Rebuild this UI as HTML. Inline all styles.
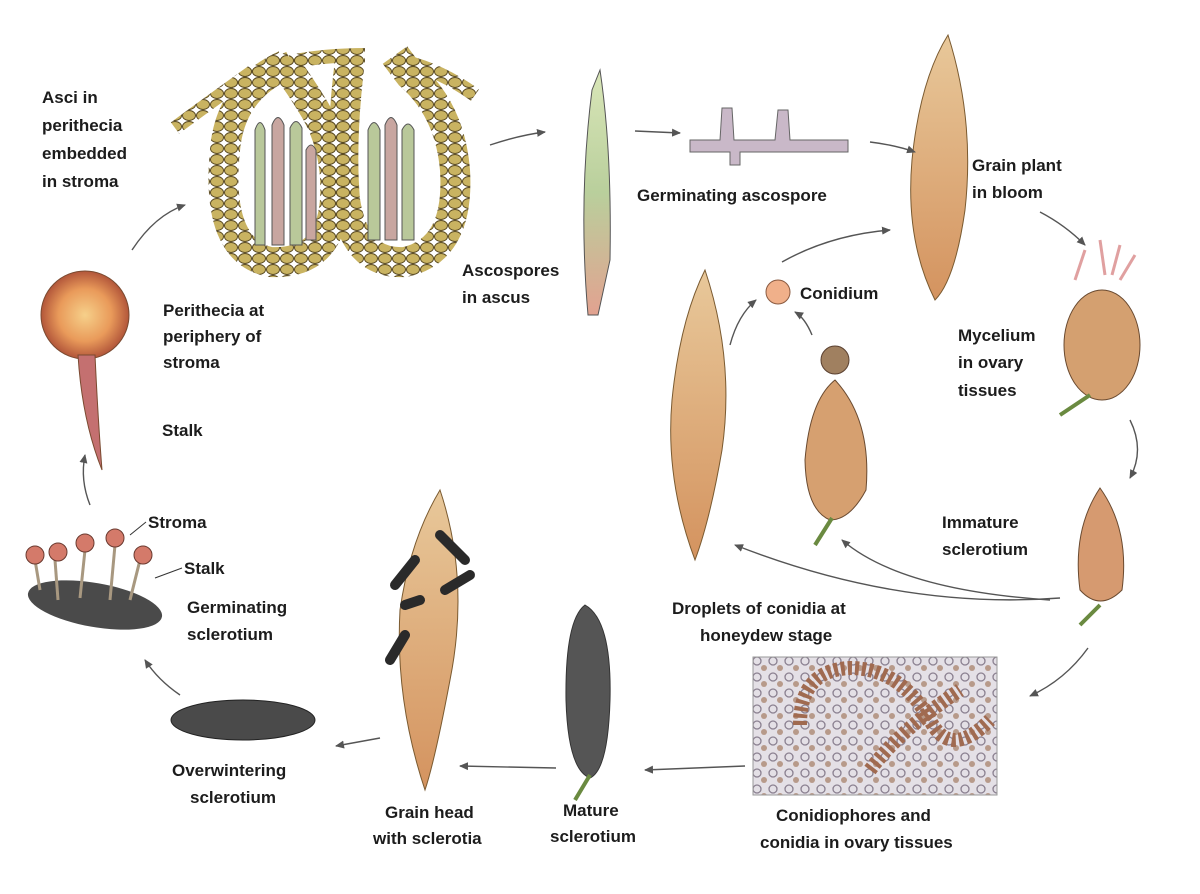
<!DOCTYPE html>
<html><head><meta charset="utf-8"><style>
html,body{margin:0;padding:0;background:#fff}
svg{display:block}
text{font-family:"Liberation Sans",sans-serif;font-weight:bold;font-size:17px;fill:#1c1c1c}
.ar{fill:none;stroke:#555;stroke-width:1.4}
</style></head><body>
<svg width="1200" height="894" viewBox="0 0 1200 894" xmlns="http://www.w3.org/2000/svg">
<defs>
<marker id="m" markerWidth="10" markerHeight="10" refX="8" refY="5" orient="auto" markerUnits="userSpaceOnUse"><path d="M0,1 L9,5 L0,9 Z" fill="#555"/></marker>
<linearGradient id="asc" x1="0" y1="0" x2="0" y2="1"><stop offset="0" stop-color="#d9e6b8"/><stop offset=".5" stop-color="#b9cf9c"/><stop offset="1" stop-color="#e2a290"/></linearGradient>
<linearGradient id="wheat" x1="0" y1="0" x2="0" y2="1"><stop offset="0" stop-color="#e8c89a"/><stop offset="1" stop-color="#d4935f"/></linearGradient>
<radialGradient id="str"><stop offset="0" stop-color="#f6d08a"/><stop offset=".6" stop-color="#e99a5a"/><stop offset="1" stop-color="#b2563a"/></radialGradient>
<pattern id="cells" width="14" height="11" patternUnits="userSpaceOnUse"><ellipse cx="7" cy="5.5" rx="6.5" ry="5" fill="#c9b361" stroke="#5a4a20" stroke-width="1"/></pattern>
<pattern id="tis" width="16" height="16" patternUnits="userSpaceOnUse"><rect width="16" height="16" fill="#e4e0e6"/><circle cx="5" cy="5" r="4" fill="none" stroke="#8a8090" stroke-width="1.3"/><circle cx="12" cy="12" r="3" fill="#b79a8a"/></pattern>
</defs>

<!-- perithecia -->
<g fill="none" stroke="url(#cells)">
<path d="M175,128 Q220,95 255,70" stroke-width="14"/>
<path d="M285,65 Q230,90 225,150 Q215,250 270,262 Q330,265 335,200 Q338,150 315,110 Q300,85 285,65" stroke-width="30"/>
<path d="M285,65 L280,55" stroke-width="14"/>
<path d="M290,62 Q325,55 365,55" stroke-width="14"/>
<path d="M350,60 Q340,140 345,200 Q355,265 405,262 Q460,250 455,170 Q450,110 410,75 Q400,62 395,55" stroke-width="30"/>
<path d="M405,62 Q440,70 475,95" stroke-width="14"/>
</g>
<g stroke="#555" stroke-width="1">
<path d="M255,245 L255,130 Q260,115 265,130 L265,245 Z" fill="#b9c89a"/>
<path d="M272,245 L272,125 Q278,110 284,125 L284,245 Z" fill="#c8a6a0"/>
<path d="M290,245 L290,128 Q296,115 302,128 L302,245 Z" fill="#b9c89a"/>
<path d="M306,240 L306,150 Q311,140 316,150 L316,240 Z" fill="#c8a6a0"/>
<path d="M368,240 L368,130 Q374,115 380,130 L380,240 Z" fill="#b9c89a"/>
<path d="M385,240 L385,125 Q391,110 397,125 L397,240 Z" fill="#c8a6a0"/>
<path d="M402,240 L402,130 Q408,118 414,130 L414,240 Z" fill="#b9c89a"/>
</g>
<!-- ascus -->
<path d="M600,70 Q612,150 610,260 L598,315 L588,315 Q578,200 592,90 Z" fill="url(#asc)" stroke="#555"/>
<!-- germinating ascospore -->
<path d="M690,140 L720,140 L722,108 L732,108 L734,140 L775,140 L778,110 L788,110 L790,140 L848,140 L848,152 L740,152 L740,165 L730,165 L730,152 L690,152 Z" fill="#c9b8c8" stroke="#666"/>
<!-- grain plant -->
<path d="M948,35 Q975,120 965,210 Q955,280 935,300 Q905,240 912,160 Q920,80 948,35 Z" fill="url(#wheat)" stroke="#7a5a30"/>
<!-- mycelium ovary -->
<path d="M1085,250 l-10,30 M1100,240 l5,35 M1120,245 l-8,30 M1135,255 l-15,25" stroke="#e0a0a0" stroke-width="3"/>
<ellipse cx="1102" cy="345" rx="38" ry="55" fill="#d4a070" stroke="#6a4a30"/>
<path d="M1090,395 L1060,415" stroke="#6a8a40" stroke-width="4"/>
<!-- immature sclerotium -->
<path d="M1100,488 Q1130,530 1122,590 Q1100,612 1080,590 Q1072,530 1100,488 Z" fill="#d69a70" stroke="#6a4a30"/>
<path d="M1100,605 L1080,625" stroke="#6a8a40" stroke-width="4"/>
<!-- conidia box -->
<rect x="753" y="657" width="244" height="138" fill="url(#tis)" stroke="#999"/>
<path d="M800,725 Q800,670 850,668 Q900,668 930,720 Q950,760 990,720" stroke="#a06a50" stroke-width="14" fill="none" stroke-dasharray="4 3"/>
<path d="M870,770 Q900,730 960,690" stroke="#a06a50" stroke-width="14" fill="none" stroke-dasharray="4 3"/>
<!-- mature sclerotium -->
<path d="M585,605 Q612,620 610,700 Q608,770 590,778 Q568,770 566,700 Q565,620 585,605 Z" fill="#555" stroke="#333"/>
<path d="M590,775 L575,800" stroke="#6a8a40" stroke-width="4"/>
<!-- grain head with sclerotia -->
<path d="M440,490 Q470,580 450,680 Q435,760 425,790 Q395,700 400,610 Q410,540 440,490 Z" fill="url(#wheat)" stroke="#7a5a30"/>
<g stroke="#2a2a2a" stroke-width="10" stroke-linecap="round"><path d="M440,535 L465,560"/><path d="M415,560 L395,585"/><path d="M445,590 L470,575"/><path d="M405,635 L390,660"/><path d="M420,600 L405,605"/></g>
<!-- overwintering -->
<ellipse cx="243" cy="720" rx="72" ry="20" fill="#4a4a4a" stroke="#222"/>
<!-- germinating sclerotium -->
<ellipse cx="95" cy="605" rx="68" ry="22" fill="#4a4a4a" transform="rotate(10 95 605)"/>
<g stroke="#a89880" stroke-width="3"><path d="M55,560 L58,600"/><path d="M85,550 L80,598"/><path d="M115,545 L110,600"/><path d="M140,560 L130,600"/><path d="M35,560 L40,590"/></g>
<g fill="#d47a6a" stroke="#6a3a30"><circle cx="35" cy="555" r="9"/><circle cx="58" cy="552" r="9"/><circle cx="85" cy="543" r="9"/><circle cx="115" cy="538" r="9"/><circle cx="143" cy="555" r="9"/></g>
<!-- stalked stroma -->
<circle cx="85" cy="315" r="44" fill="url(#str)" stroke="#7a4a30"/>
<path d="M78,355 Q82,420 102,470 Q98,420 95,355 Z" fill="#c47070" stroke="#7a4a30"/>
<!-- droplet wheat -->
<path d="M705,270 Q735,360 722,450 Q710,520 695,560 Q665,480 672,400 Q680,320 705,270 Z" fill="url(#wheat)" stroke="#7a5a30"/>
<!-- conidium -->
<circle cx="778" cy="292" r="12" fill="#f0b08a" stroke="#8a5a40"/>
<!-- ovary with droplet -->
<circle cx="835" cy="360" r="14" fill="#a08060" stroke="#5a4030"/>
<path d="M835,380 Q872,420 866,490 Q850,520 830,520 Q806,510 805,460 Q810,400 835,380 Z" fill="#d6a070" stroke="#6a4a30"/>
<path d="M832,518 L815,545" stroke="#6a8a40" stroke-width="4"/>

<!-- arrows -->
<g class="ar">
<path d="M132,250 Q155,215 185,205" marker-end="url(#m)"/>
<path d="M490,145 Q520,135 545,132" marker-end="url(#m)"/>
<path d="M635,131 L680,133" marker-end="url(#m)"/>
<path d="M870,142 Q895,145 915,152" marker-end="url(#m)"/>
<path d="M1040,212 Q1065,225 1085,245" marker-end="url(#m)"/>
<path d="M1130,420 Q1145,450 1130,478" marker-end="url(#m)"/>
<path d="M1060,598 Q900,610 735,545" marker-end="url(#m)"/>
<path d="M1050,600 Q900,590 842,540" marker-end="url(#m)"/>
<path d="M1088,648 Q1065,680 1030,696" marker-end="url(#m)"/>
<path d="M745,766 L645,770" marker-end="url(#m)"/>
<path d="M556,768 L460,766" marker-end="url(#m)"/>
<path d="M380,738 L336,746" marker-end="url(#m)"/>
<path d="M180,695 Q158,680 145,660" marker-end="url(#m)"/>
<path d="M90,505 Q80,480 85,455" marker-end="url(#m)"/>
<path d="M730,345 Q738,315 756,300" marker-end="url(#m)"/>
<path d="M812,335 Q805,318 795,312" marker-end="url(#m)"/>
<path d="M782,262 Q830,235 890,230" marker-end="url(#m)"/>
</g>
<g stroke="#333" stroke-width="1"><path d="M130,535 L146,522"/><path d="M155,578 L182,568"/></g>

<!-- labels -->
<text x="42" y="103">Asci in</text><text x="42" y="131">perithecia</text><text x="42" y="159">embedded</text><text x="42" y="187">in stroma</text>
<text x="462" y="276">Ascospores</text><text x="462" y="303">in ascus</text>
<text x="637" y="201">Germinating ascospore</text>
<text x="972" y="171">Grain plant</text><text x="972" y="198">in bloom</text>
<text x="958" y="341">Mycelium</text><text x="958" y="368">in ovary</text><text x="958" y="396">tissues</text>
<text x="800" y="299">Conidium</text>
<text x="942" y="528">Immature</text><text x="942" y="555">sclerotium</text>
<text x="672" y="614">Droplets of conidia at</text><text x="700" y="641">honeydew stage</text>
<text x="776" y="821">Conidiophores and</text><text x="760" y="848">conidia in ovary tissues</text>
<text x="563" y="816">Mature</text><text x="550" y="842">sclerotium</text>
<text x="385" y="818">Grain head</text><text x="373" y="844">with sclerotia</text>
<text x="172" y="776">Overwintering</text><text x="190" y="803">sclerotium</text>
<text x="148" y="528">Stroma</text><text x="184" y="574">Stalk</text>
<text x="187" y="613">Germinating</text><text x="187" y="640">sclerotium</text>
<text x="163" y="316">Perithecia at</text><text x="163" y="342">periphery of</text><text x="163" y="368">stroma</text>
<text x="162" y="436">Stalk</text>
</svg>
</body></html>
